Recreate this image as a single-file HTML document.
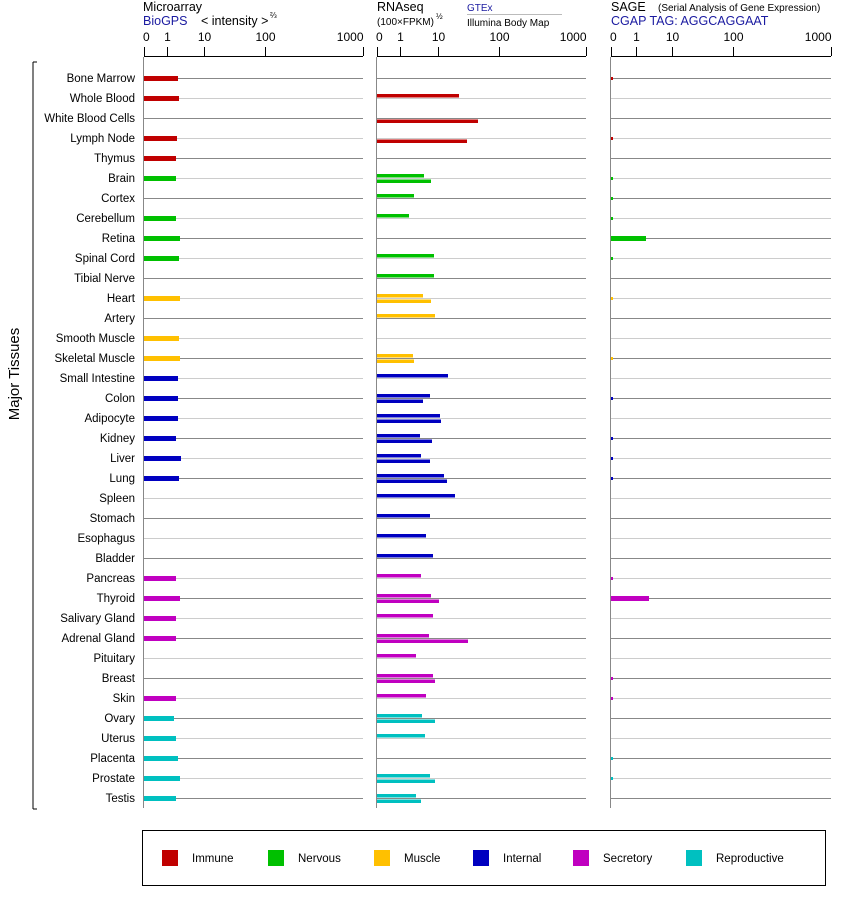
<!DOCTYPE html>
<html><head><meta charset="utf-8"><style>
body{margin:0;background:#fff}
svg{display:block;font-family:"Liberation Sans",Arial,sans-serif}
</style></head><body>
<svg id="s" width="842" height="900" xmlns="http://www.w3.org/2000/svg">
<text x="143" y="11" font-size="12.5">Microarray</text>
<text x="143" y="25" font-size="12.5" fill="#1a1aa0">BioGPS</text>
<text x="201" y="25" font-size="12.5">&lt; intensity &gt;</text>
<text x="270" y="18" font-size="8">⅔</text>
<text x="377" y="11" font-size="12.5">RNAseq</text>
<text x="377" y="25" font-size="10">(100×FPKM)</text>
<text x="436" y="19" font-size="8">½</text>
<text x="467" y="11" font-size="10" fill="#1a1aa0">GTEx</text>
<line x1="467" y1="14.5" x2="562" y2="14.5" stroke="#bbb"/>
<text x="467" y="26" font-size="10">Illumina Body Map</text>
<text x="611" y="11" font-size="12.5">SAGE</text>
<text x="658" y="11" font-size="10">(Serial Analysis of Gene Expression)</text>
<text x="611" y="25" font-size="12.5" fill="#1a1aa0">CGAP TAG: AGGCAGGAAT</text>
<line x1="33" y1="62" x2="33" y2="809" stroke="#000"/>
<line x1="33" y1="62" x2="37" y2="62" stroke="#000"/>
<line x1="33" y1="809" x2="37" y2="809" stroke="#000"/>
<text transform="translate(19,374) rotate(-90)" font-size="15" text-anchor="middle">Major Tissues</text>
<rect x="142.5" y="830.5" width="683" height="55" fill="none" stroke="#000"/>
<g id="g"></g>
</svg>
<script>
var C={r:"#c00000",g:"#00c000",y:"#ffc000",b:"#0000c0",m:"#c000c0",c:"#00c0c0"};
var rows=[
["Bone Marrow","r",178,0,0,1],["Whole Blood","r",179,459,0,0],["White Blood Cells","r",0,0,478,0],["Lymph Node","r",177,0,467,1],["Thymus","r",176,0,0,0],
["Brain","g",176,424,431,1],["Cortex","g",0,414,0,1],["Cerebellum","g",176,409,0,1],["Retina","g",180,0,0,646],["Spinal Cord","g",179,434,0,1],["Tibial Nerve","g",0,434,0,0],
["Heart","y",180,423,431,1],["Artery","y",0,435,0,0],["Smooth Muscle","y",179,0,0,0],["Skeletal Muscle","y",180,413,414,1],
["Small Intestine","b",178,448,0,0],["Colon","b",178,430,423,1],["Adipocyte","b",178,440,441,0],["Kidney","b",176,420,432,1],["Liver","b",181,421,430,1],["Lung","b",179,444,447,1],["Spleen","b",0,455,0,0],["Stomach","b",0,430,0,0],["Esophagus","b",0,426,0,0],["Bladder","b",0,433,0,0],
["Pancreas","m",176,421,0,1],["Thyroid","m",180,431,439,649],["Salivary Gland","m",176,433,0,0],["Adrenal Gland","m",176,429,468,0],["Pituitary","m",0,416,0,0],["Breast","m",0,433,435,1],["Skin","m",176,426,0,1],
["Ovary","c",174,422,435,0],["Uterus","c",176,425,0,0],["Placenta","c",178,0,0,1],["Prostate","c",180,430,435,1],["Testis","c",176,416,421,0]];
var h="";
function L(x1,y1,x2,y2,c,w){h+='<line x1="'+x1+'" y1="'+y1+'" x2="'+x2+'" y2="'+y2+'" stroke="'+c+'" stroke-width="'+(w||1)+'"/>';}
function R(x,y,w,hh,c){h+='<rect x="'+x+'" y="'+y+'" width="'+w+'" height="'+hh+'" fill="'+c+'"/>';}
function T(x,y,t,s,a){h+='<text x="'+x+'" y="'+y+'" font-size="'+s+'" text-anchor="'+(a||"start")+'">'+t+'</text>';}
var P=[[144,363,[144,167,204,265,363]],[377,586,[377,400,438,499,586]],[611,831,[611,636,672,733,831]]];
var lab=["0","1","10","100","1000"];
P.forEach(function(p){
 L(p[0],56.5,p[1],56.5,"#000");
 p[2].forEach(function(x,i){L(x+.5,47,x+.5,56,"#000");T(i==0?x-1:x+.5,41,lab[i],12,i==0?"start":(i==4?"end":"middle"));});
 L(p[0]-.5,57,p[0]-.5,808,"#888");
});
rows.forEach(function(r,i){
 var y=78+20*i,c=C[r[1]],lc=i%2?"#ccc":"#888";
 T(135,y+4,r[0],11.5,"end");
 P.forEach(function(p){L(p[0],y+.5,p[1],y+.5,lc);});
 if(r[2])R(144,y-2,r[2]-144,5,c);
 if(r[3])R(377,y-4,r[3]-377,3.5,c);
 if(r[4])R(377,y+1.5,r[4]-377,3.5,c);
 if(r[5]==1)R(611,y-1,2,3,c);else if(r[5])R(611,y-2,r[5]-611,5,c);
});
var lg=[["Immune","r",162],["Nervous","g",268],["Muscle","y",374],["Internal","b",473],["Secretory","m",573],["Reproductive","c",686]];
lg.forEach(function(l){R(l[2],850,16,16,C[l[1]]);T(l[2]+30,862,l[0],11.5);});
document.getElementById("g").innerHTML=h;
</script>
</body></html>
